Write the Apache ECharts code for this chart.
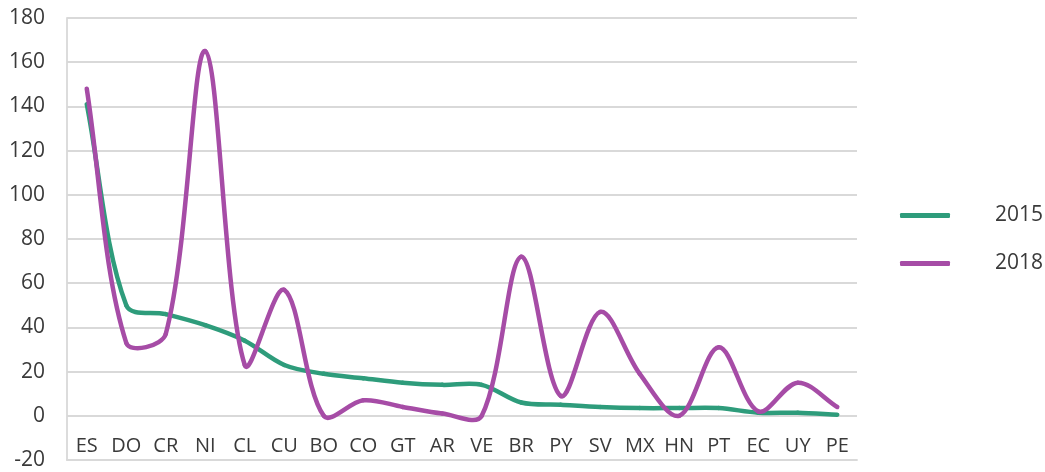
<!DOCTYPE html>
<html>
<head>
<meta charset="utf-8">
<script src="https://cdn.jsdelivr.net/npm/echarts@6/dist/echarts.min.js"></script>
<style>html,body{margin:0;padding:0;background:#fff;}#c{width:1045px;height:472px;}</style>
</head>
<body>
<div id="c"></div>
<script>
const categories = ['ES','DO','CR','NI','CL','CU','BO','CO','GT','AR','VE','BR','PY','SV','MX','HN','PT','EC','UY','PE'];
const series2015 = [141, 50, 46, 41, 34, 23, 19, 17, 15, 14, 14, 6, 5, 4, 3.5, 3.5, 3.5, 1.4, 1.4, 0.5];
const series2018 = [148, 33, 37, 165, 23, 57, 0, 7, 4, 1, 0, 72, 9, 47, 19, 0, 31, 2, 15, 4];
const seriesNames = ['2015', '2018'];
const yTicks = {min: -20, max: 180, interval: 20};

const colors = ['#2e9c7b', '#a64ca6'];
const fontFam = '"Open Sans", "Liberation Sans", sans-serif';
const textColor = '#3a3a3a';
const gridColor = '#d9d9d9';

// Excel-style smoothed segment (Bezier control points scaled by segment lengths)
function makeRenderItem(color) {
  return function (params, api) {
    const i = params.dataIndexInside;
    const n = params.dataInsideLength;
    if (i >= n - 1) return null;
    const pt = (k) => {
      k = Math.max(0, Math.min(n - 1, k));
      return api.coord([api.value(0, k), api.value(1, k)]);
    };
    const p0 = pt(i - 1), p1 = pt(i), p2 = pt(i + 1), p3 = pt(i + 2);
    const d = (a, b) => Math.hypot(b[0] - a[0], b[1] - a[1]);
    const d01 = d(p0, p1), d12 = d(p1, p2), d23 = d(p2, p3);
    const f1 = d12 / (3 * ((d01 + d12) || 1));
    const f2 = d12 / (3 * ((d12 + d23) || 1));
    const cp1 = [p1[0] + (p2[0] - p0[0]) * f1, p1[1] + (p2[1] - p0[1]) * f1];
    const cp2 = [p2[0] - (p3[0] - p1[0]) * f2, p2[1] - (p3[1] - p1[1]) * f2];
    return {
      type: 'bezierCurve',
      shape: {x1: p1[0], y1: p1[1], x2: p2[0], y2: p2[1], cpx1: cp1[0], cpy1: cp1[1], cpx2: cp2[0], cpy2: cp2[1]},
      style: {stroke: color, lineWidth: 4.5, fill: null, lineCap: 'round', lineJoin: 'round'},
      silent: true
    };
  };
}

const chart = echarts.init(document.getElementById('c'), null, {renderer: 'canvas'});
chart.setOption({
  animation: false,
  backgroundColor: '#ffffff',
  grid: {left: 67, right: 188, top: 18, bottom: 12, containLabel: false, outerBoundsMode: 'none'},
  legend: {
    orient: 'vertical',
    left: 900,
    top: 205,
    padding: 0,
    itemWidth: 50,
    itemHeight: 5,
    itemGap: 27,
    icon: 'roundRect',
    textStyle: {fontSize: 21, lineHeight: 20, color: textColor, fontFamily: fontFam, padding: [0, 0, 0, 40]},
    data: [
      {name: seriesNames[0], itemStyle: {color: colors[0]}},
      {name: seriesNames[1], itemStyle: {color: colors[1]}}
    ]
  },
  xAxis: {
    type: 'category',
    data: categories,
    boundaryGap: true,
    axisLine: {show: true, onZero: false, lineStyle: {color: gridColor, width: 1.8}},
    axisTick: {show: false},
    axisLabel: {inside: true, fontSize: 20, color: textColor, fontFamily: fontFam, margin: 4},
    splitLine: {show: false}
  },
  yAxis: {
    type: 'value',
    min: yTicks.min,
    max: yTicks.max,
    interval: yTicks.interval,
    axisLine: {show: true, lineStyle: {color: gridColor, width: 1.8}},
    axisTick: {show: false},
    axisLabel: {fontSize: 21, color: textColor, fontFamily: fontFam, margin: 22},
    splitLine: {show: true, lineStyle: {color: gridColor, width: 1.8}}
  },
  series: [
    {
      name: seriesNames[0], type: 'custom', clip: false,
      itemStyle: {color: colors[0]},
      encode: {x: 0, y: 1},
      data: series2015.map((v, i) => [i, v]),
      renderItem: makeRenderItem(colors[0])
    },
    {
      name: seriesNames[1], type: 'custom', clip: false,
      itemStyle: {color: colors[1]},
      encode: {x: 0, y: 1},
      data: series2018.map((v, i) => [i, v]),
      renderItem: makeRenderItem(colors[1])
    }
  ]
});
</script>
</body>
</html>
